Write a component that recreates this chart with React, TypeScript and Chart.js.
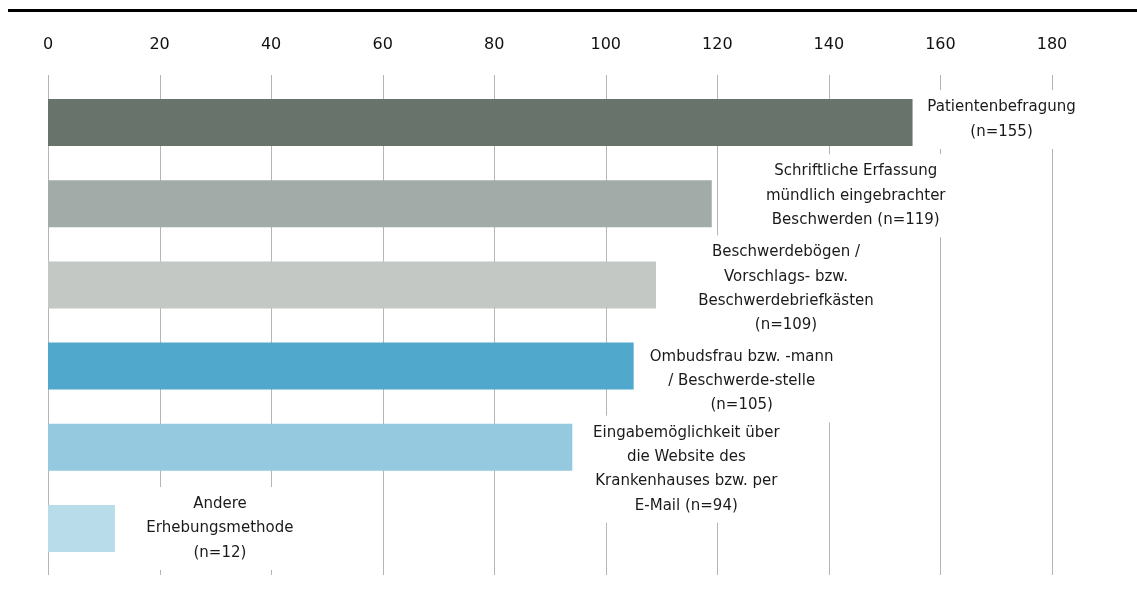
import React, { useEffect, useRef } from "react";
import { Chart, registerables } from "chart.js";

Chart.register(...registerables);

const categories = [
  "Patientenbefragung",
  "Schriftliche Erfassung mündlich eingebrachter Beschwerden",
  "Beschwerdebögen / Vorschlags- bzw. Beschwerdebriefkästen",
  "Ombudsfrau bzw. -mann / Beschwerde-stelle",
  "Eingabemöglichkeit über die Website des Krankenhauses bzw. per E-Mail",
  "Andere Erhebungsmethode",
];
const values = [155, 119, 109, 105, 94, 12];
const labelWraps = [
  ["Patientenbefragung", "(n=#)"],
  ["Schriftliche Erfassung", "mündlich eingebrachter", "Beschwerden (n=#)"],
  ["Beschwerdebögen /", "Vorschlags- bzw.", "Beschwerdebriefkästen", "(n=#)"],
  ["Ombudsfrau bzw. -mann", "/ Beschwerde-stelle", "(n=#)"],
  ["Eingabemöglichkeit über", "die Website des", "Krankenhauses bzw. per", "E-Mail (n=#)"],
  ["Andere", "Erhebungsmethode", "(n=#)"],
];
const barColors = ["#68736b", "#a2aba7", "#c3c8c5", "#50a9cc", "#95c9df", "#b8dcea"];
const xMin = 0;
const xMax = 180;
const xStep = 20;

// label placement relative to bar end / bar centre (px)
const labelOffsets = [
  [89, -3],
  [144, -8],
  [130, 4],
  [108, 15],
  [114, 22],
  [105, 0],
];

const FONT = '"DejaVu Sans", sans-serif';

export default function App() {
  const ref = useRef<HTMLCanvasElement | null>(null);

  useEffect(() => {
    const canvas = ref.current;
    if (!canvas) return;

    const topLinePlugin = {
      id: "topLine",
      beforeDraw(chart: any) {
        const ctx = chart.ctx;
        ctx.save();
        ctx.fillStyle = "#ffffff";
        ctx.fillRect(0, 0, chart.width, chart.height);
        ctx.fillStyle = "#000000";
        ctx.fillRect(8, 9, chart.width - 8, 3);
        ctx.restore();
      },
    };

    const gridPlugin = {
      id: "extGrid",
      beforeDatasetsDraw(chart: any) {
        const ctx = chart.ctx;
        const xs = chart.scales.x;
        const area = chart.chartArea;
        ctx.save();
        ctx.strokeStyle = "#b5b5b5";
        ctx.lineWidth = 1;
        for (let v = xMin; v <= xMax; v += xStep) {
          const x = Math.round(xs.getPixelForValue(v)) + 0.5;
          ctx.beginPath();
          ctx.moveTo(x, area.top - 7);
          ctx.lineTo(x, area.bottom + 6);
          ctx.stroke();
        }
        ctx.restore();
      },
    };

    const labelPlugin = {
      id: "barLabels",
      afterDatasetsDraw(chart: any) {
        const ctx = chart.ctx;
        const meta = chart.getDatasetMeta(0);
        const lineH = 24.3;
        ctx.save();
        ctx.font = `15px ${FONT}`;
        ctx.textAlign = "center";
        ctx.textBaseline = "middle";
        meta.data.forEach((bar: any, i: number) => {
          const lines = labelWraps[i].map((s) => s.replace("#", String(values[i])));
          const cx = bar.x + labelOffsets[i][0];
          const cy = bar.y + labelOffsets[i][1];
          const w = Math.max(...lines.map((l) => ctx.measureText(l).width));
          const h = lines.length * lineH;
          ctx.fillStyle = "#ffffff";
          ctx.fillRect(cx - w / 2 - 6, cy - h / 2 - 5, w + 12, h + 10);
          ctx.fillStyle = "#1a1a1a";
          lines.forEach((l, k) => {
            ctx.fillText(l, cx, cy - h / 2 + lineH * (k + 0.5));
          });
        });
        ctx.restore();
      },
    };

    const chart = new Chart(canvas, {
      type: "bar",
      data: {
        labels: categories,
        datasets: [
          {
            data: values,
            backgroundColor: barColors,
            borderWidth: 0,
            categoryPercentage: 1,
            barPercentage: 0.58,
          },
        ],
      },
      options: {
        indexAxis: "y",
        responsive: false,
        animation: false,
        devicePixelRatio: 1,
        layout: { padding: { top: 33, bottom: 29, left: 48, right: 85 } },
        plugins: {
          legend: { display: false },
          tooltip: { enabled: false },
          title: { display: false },
        },
        scales: {
          x: {
            position: "top",
            min: xMin,
            max: xMax,
            afterFit(scale: any) {
              scale.height = 49;
            },
            ticks: {
              stepSize: xStep,
              padding: 28,
              color: "#111111",
              font: { family: FONT, size: 16 },
            },
            grid: { display: false, drawTicks: false },
            border: { display: false },
          },
          y: {
            display: false,
            offset: true,
            grid: { display: false },
          },
        },
      },
      plugins: [topLinePlugin, gridPlugin, labelPlugin],
    } as any);

    return () => chart.destroy();
  }, []);

  return (
    <div style={{ position: "absolute", left: 0, top: 0, width: 1137, height: 598 }}>
      <canvas ref={ref} width={1137} height={598} style={{ display: "block" }} />
    </div>
  );
}
